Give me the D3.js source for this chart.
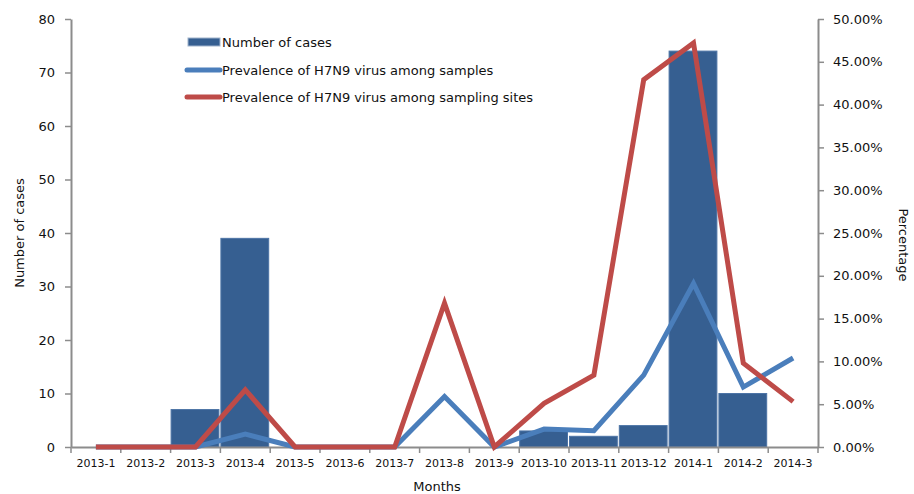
<!DOCTYPE html>
<html><head><meta charset="utf-8">
<script src="https://cdn.jsdelivr.net/npm/d3@7"></script>
<style>body{margin:0;background:#fff}svg{display:block}text{font-family:"DejaVu Sans",sans-serif;fill:#111}</style>
</head><body><svg id="c" width="914" height="494"></svg>
<script>
const months = ["2013-1","2013-2","2013-3","2013-4","2013-5","2013-6","2013-7","2013-8","2013-9","2013-10","2013-11","2013-12","2014-1","2014-2","2014-3"];
const cases = [0,0,7,39,0,0,0,0,0,3,2,4,74,10,null];
const prevSamples = [0,0,0,1.5,0,0,0,5.9,0,2.1,1.9,8.4,19.1,7.0,10.4];
const prevSites = [0,0,0,6.67,0,0,0,16.8,0,5.1,8.4,42.9,47.2,9.8,5.3];
const leftTicks = [0,10,20,30,40,50,60,70,80];
const rightTicks = [0,5,10,15,20,25,30,35,40,45,50];
const seriesNames = ["Number of cases","Prevalence of H7N9 virus among samples","Prevalence of H7N9 virus among sampling sites"];
const colors = {bar:"#365f91", blue:"#4a7ebb", red:"#be4b48", axis:"#8c8c8c"};

const svg = d3.select("#c");
const L = 71, R = 818, T = 19, B = 447;
const x = d3.scaleBand().domain(months).range([L, R]).padding(0);
const yL = d3.scaleLinear().domain([0,80]).range([B, T]);
const yR = d3.scaleLinear().domain([0,50]).range([B, T]);

// bars
svg.append("g").selectAll("rect").data(months.map((m,i)=>({m, v:cases[i]})).filter(d=>d.v))
  .join("rect")
  .attr("x", d=>x(d.m)+0.5).attr("width", x.bandwidth()-2)
  .attr("y", d=>yL(d.v)).attr("height", d=>B-yL(d.v))
  .attr("fill", colors.bar).attr("stroke","#4d74a6").attr("stroke-width",1);

// axes
function styleAxis(g){
  g.select(".domain").attr("stroke", colors.axis).attr("stroke-width",2);
  g.selectAll(".tick line").attr("stroke", colors.axis).attr("stroke-width",1.5);
}
const ax = svg.append("g").attr("transform",`translate(0,${B})`)
  .call(d3.axisBottom(x).tickSize(0).tickSizeOuter(0));
ax.select(".domain").attr("stroke", colors.axis).attr("stroke-width",2);
ax.selectAll(".tick text").attr("font-size",11).attr("dy","1.55em").style("font-family","DejaVu Sans");
// boundary ticks
svg.append("g").selectAll("line").data(months.concat(["end"])).join("line")
  .attr("x1",(d,i)=>L + i*x.bandwidth()).attr("x2",(d,i)=>L + i*x.bandwidth())
  .attr("y1",B).attr("y2",B+6).attr("stroke",colors.axis).attr("stroke-width",1.5);

const ay = svg.append("g").attr("transform",`translate(${L},0)`)
  .call(d3.axisLeft(yL).tickValues(leftTicks).tickSize(6).tickPadding(10).tickSizeOuter(0));
styleAxis(ay);
ay.selectAll(".tick text").attr("font-size",13).style("font-family","DejaVu Sans");

const ar = svg.append("g").attr("transform",`translate(${R},0)`)
  .call(d3.axisRight(yR).tickValues(rightTicks).tickSize(6).tickPadding(9).tickSizeOuter(0)
    .tickFormat(d=>d3.format(".2f")(d)+"%"));
styleAxis(ar);
ar.selectAll(".tick text").attr("font-size",13).style("font-family","DejaVu Sans");

// lines
const line = d3.line().x((d,i)=>x(months[i])+x.bandwidth()/2).y(d=>yR(d));
svg.append("path").datum(prevSamples).attr("d",line).attr("fill","none")
  .attr("stroke",colors.blue).attr("stroke-width",5).attr("stroke-linejoin","miter");
svg.append("path").datum(prevSites).attr("d",line).attr("fill","none")
  .attr("stroke",colors.red).attr("stroke-width",5).attr("stroke-linejoin","miter");

// titles
svg.append("text").attr("transform","translate(24,233) rotate(-90)").attr("text-anchor","middle")
  .attr("font-size",13).text("Number of cases");
svg.append("text").attr("transform","translate(899,245) rotate(90)").attr("text-anchor","middle")
  .attr("font-size",13).text("Percentage");
svg.append("text").attr("x",437).attr("y",491).attr("text-anchor","middle")
  .attr("font-size",13).text("Months");

// legend
const lg = svg.append("g");
const rows = [42,70,97];
lg.append("rect").attr("x",188).attr("y",rows[0]-4).attr("width",32).attr("height",8)
  .attr("fill",colors.bar).attr("stroke","#9fb3cc").attr("stroke-width",1);
lg.append("line").attr("x1",187).attr("x2",220).attr("y1",rows[1]).attr("y2",rows[1])
  .attr("stroke",colors.blue).attr("stroke-width",5).attr("stroke-linecap","round");
lg.append("line").attr("x1",187).attr("x2",220).attr("y1",rows[2]).attr("y2",rows[2])
  .attr("stroke",colors.red).attr("stroke-width",5).attr("stroke-linecap","round");
lg.selectAll("text").data(seriesNames).join("text")
  .attr("x",222).attr("y",(d,i)=>rows[i]).attr("dy","0.35em").attr("font-size",13).text(d=>d);
</script></body></html>
